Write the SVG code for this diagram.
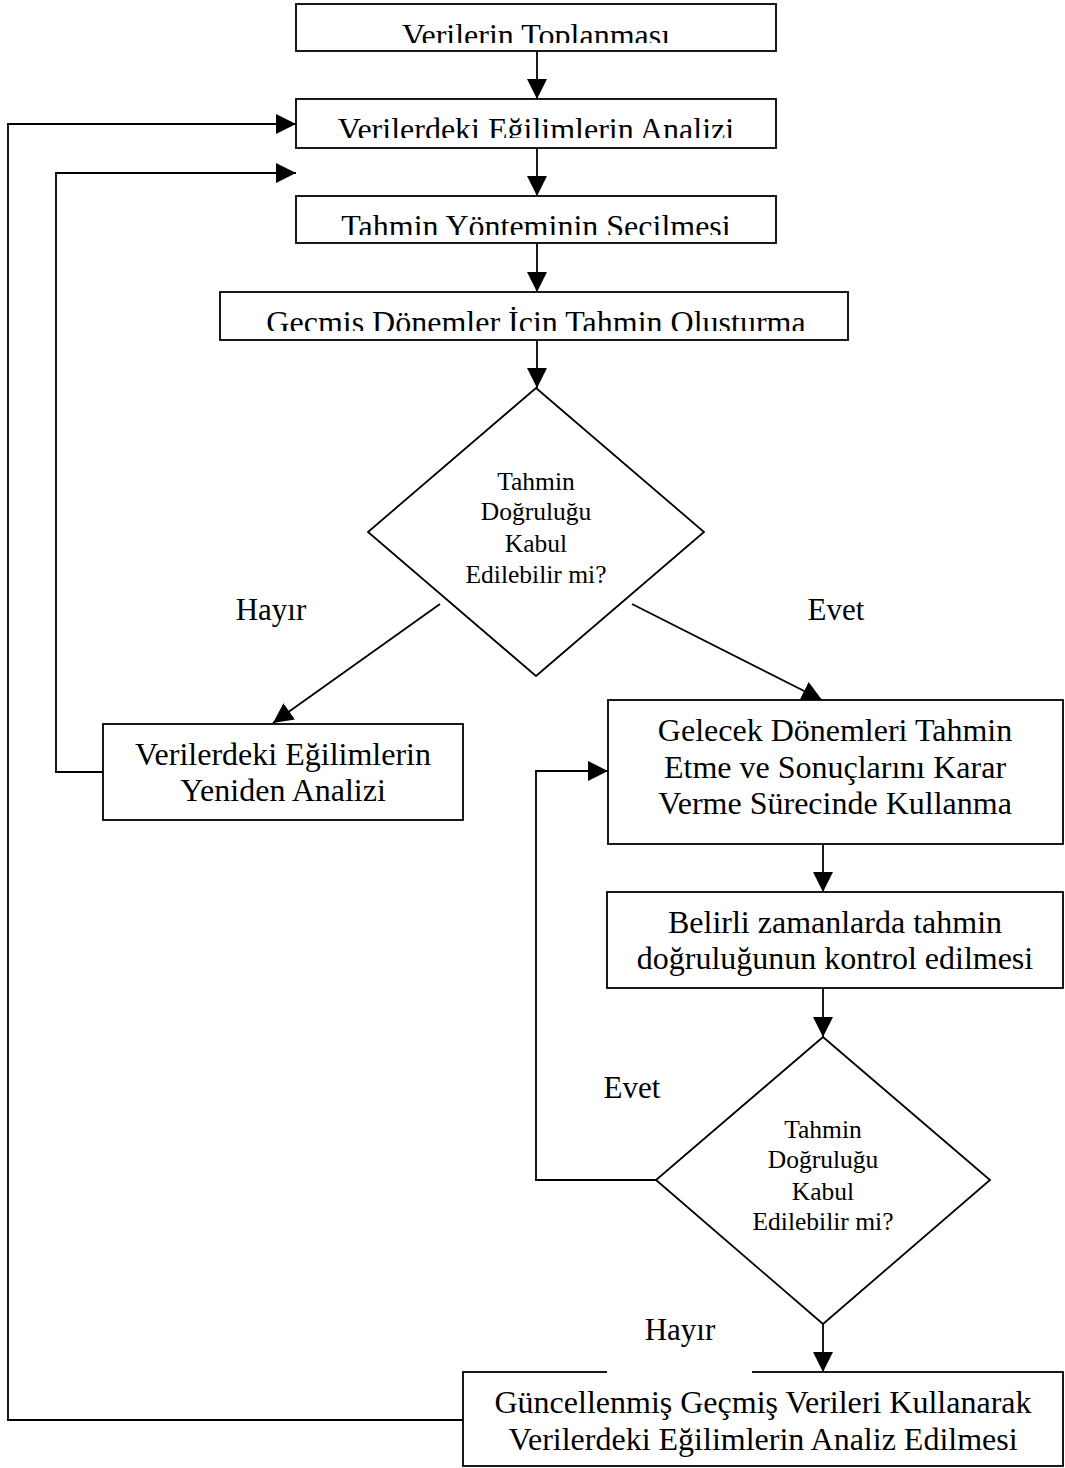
<svg xmlns="http://www.w3.org/2000/svg" width="1065" height="1468" viewBox="0 0 1065 1468">
  <style>
    .box { fill: #fff; stroke: #000; stroke-width: 1.8; }
    .conn { fill: none; stroke: #000; stroke-width: 1.8; }
    text { font-family: "Liberation Serif", "Times New Roman", serif; fill: #000; text-anchor: middle; }
    .t { font-size: 32px; }
    .q { font-size: 25.5px; }
    .lbl { font-size: 31px; }
  </style>
  <defs>
    <marker id="arrow" markerUnits="userSpaceOnUse" markerWidth="20" markerHeight="20" refX="20" refY="10" orient="auto" viewBox="0 0 20 20">
      <path d="M0,0 L20,10 L0,20 z" fill="#000"/>
    </marker>
    <clipPath id="clip1"><rect x="296" y="4" width="480" height="39"/></clipPath>
    <clipPath id="clip2"><rect x="296" y="99" width="480" height="39"/></clipPath>
    <clipPath id="clip3"><rect x="296" y="196" width="480" height="39"/></clipPath>
    <clipPath id="clip4"><rect x="220" y="292" width="628" height="39"/></clipPath>
  </defs>

  <rect width="1065" height="1468" fill="#fff"/>

  <!-- connectors -->
  <g id="connectors">
    <line class="conn" x1="537" y1="51" x2="537" y2="99" marker-end="url(#arrow)"/>
    <line class="conn" x1="537" y1="148" x2="537" y2="196" marker-end="url(#arrow)"/>
    <line class="conn" x1="537" y1="243" x2="537" y2="292" marker-end="url(#arrow)"/>
    <line class="conn" x1="537" y1="340" x2="537" y2="388" marker-end="url(#arrow)"/>
    <line class="conn" x1="440" y1="604" x2="273" y2="723" marker-end="url(#arrow)"/>
    <line class="conn" x1="632" y1="604" x2="822" y2="700" marker-end="url(#arrow)"/>
    <line class="conn" x1="823" y1="844" x2="823" y2="892" marker-end="url(#arrow)"/>
    <line class="conn" x1="823" y1="988" x2="823" y2="1037" marker-end="url(#arrow)"/>
    <line class="conn" x1="823" y1="1324" x2="823" y2="1372" marker-end="url(#arrow)"/>
    <polyline class="conn" points="656,1180 536,1180 536,771 608,771" marker-end="url(#arrow)"/>
    <polyline class="conn" points="463,1420 8,1420 8,124 296,124" marker-end="url(#arrow)"/>
    <polyline class="conn" points="103,772 56,772 56,173 296,173" marker-end="url(#arrow)"/>
  </g>

  <g id="n1">
    <rect class="box" x="296" y="4" width="480" height="47"/>
    <text class="t" x="536" y="46" clip-path="url(#clip1)">Verilerin Toplanması</text>
  </g>
  <g id="n2">
    <rect class="box" x="296" y="99" width="480" height="49"/>
    <text class="t" x="536" y="140" clip-path="url(#clip2)">Verilerdeki Eğilimlerin Analizi</text>
  </g>
  <g id="n3">
    <rect class="box" x="296" y="196" width="480" height="47"/>
    <text class="t" x="536" y="237" clip-path="url(#clip3)">Tahmin Yönteminin Secilmesi</text>
  </g>
  <g id="n4">
    <rect class="box" x="220" y="292" width="628" height="48"/>
    <text class="t" x="536" y="333" clip-path="url(#clip4)">Gecmis Dönemler İcin Tahmin Olusturma</text>
  </g>

  <g id="d1">
    <polygon class="box" points="536,388 704,532 536,676 368,532"/>
    <text class="q" x="536" y="490">Tahmin</text>
    <text class="q" x="536" y="520">Doğruluğu</text>
    <text class="q" x="536" y="552">Kabul</text>
    <text class="q" x="536" y="583">Edilebilir mi?</text>
  </g>

  <g id="lbl-hayir1">
    <text class="lbl" x="271" y="620">Hayır</text>
  </g>
  <g id="lbl-evet1">
    <text class="lbl" x="836" y="620">Evet</text>
  </g>

  <g id="n5">
    <rect class="box" x="103" y="724" width="360" height="96"/>
    <text class="t" x="283" y="765">Verilerdeki Eğilimlerin</text>
    <text class="t" x="283" y="801">Yeniden Analizi</text>
  </g>

  <g id="n6">
    <rect class="box" x="608" y="700" width="455" height="144"/>
    <text class="t" x="835" y="741">Gelecek Dönemleri Tahmin</text>
    <text class="t" x="835" y="778">Etme ve Sonuçlarını Karar</text>
    <text class="t" x="835" y="814">Verme Sürecinde Kullanma</text>
  </g>

  <g id="n7">
    <rect class="box" x="607" y="892" width="456" height="96"/>
    <text class="t" x="835" y="933">Belirli zamanlarda tahmin</text>
    <text class="t" x="835" y="969">doğruluğunun kontrol edilmesi</text>
  </g>

  <g id="d2">
    <polygon class="box" points="823,1037 990,1180 823,1324 656,1180"/>
    <text class="q" x="823" y="1138">Tahmin</text>
    <text class="q" x="823" y="1168">Doğruluğu</text>
    <text class="q" x="823" y="1200">Kabul</text>
    <text class="q" x="823" y="1230">Edilebilir mi?</text>
  </g>

  <g id="lbl-evet2">
    <text class="lbl" x="632" y="1098">Evet</text>
  </g>

  <g id="n8">
    <rect class="box" x="463" y="1372" width="600" height="94"/>
    <text class="t" x="763" y="1413">Güncellenmiş Geçmiş Verileri Kullanarak</text>
    <text class="t" x="763" y="1450">Verilerdeki Eğilimlerin Analiz Edilmesi</text>
  </g>

  <g id="lbl-hayir2">
    <rect x="607" y="1310" width="145" height="64" fill="#fff"/>
    <text class="lbl" x="680" y="1340">Hayır</text>
  </g>
</svg>
